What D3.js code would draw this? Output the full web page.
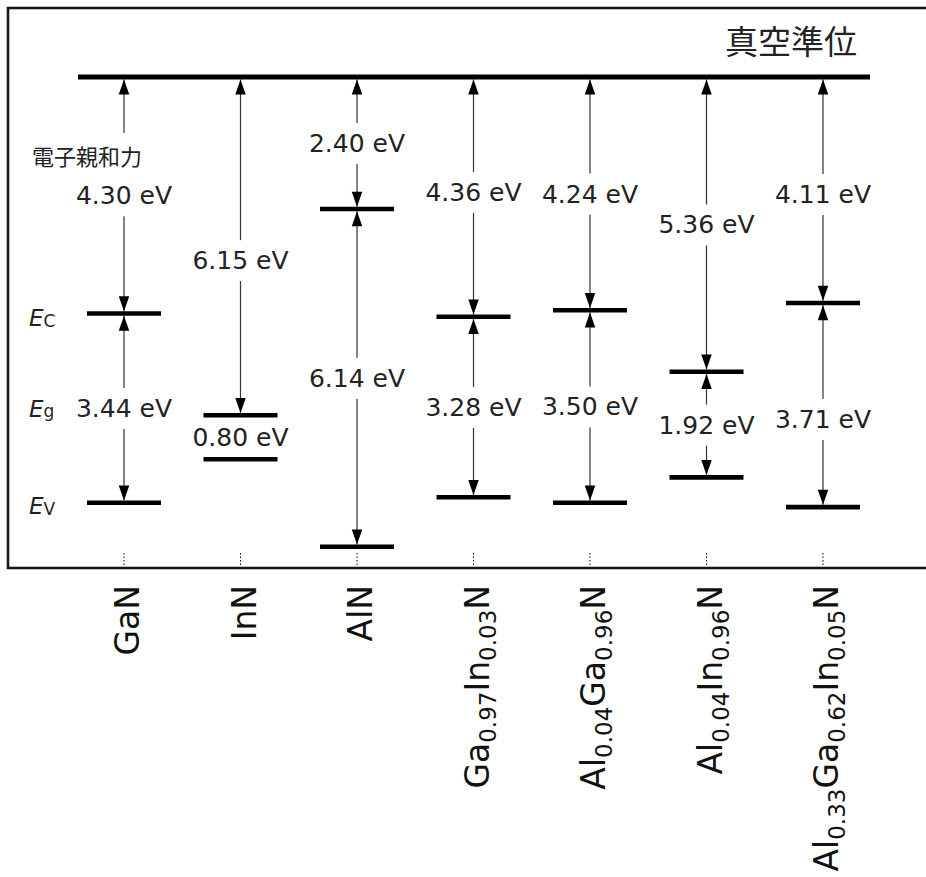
<!DOCTYPE html>
<html lang="ja">
<head>
<meta charset="utf-8">
<script src="https://cdn.jsdelivr.net/npm/d3@7"></script>
<style>
  body { margin: 0; background: #fff; }
  svg { display: block; }
  .num { font-family: "DejaVu Sans", sans-serif; font-size: 25px; fill: #222; }
  .jp { font-family: "Noto Sans CJK JP", sans-serif; fill: #222; }
</style>
</head>
<body>
<div id="chart"></div>
<script>
// materials and energies (eV)
const materials = ['GaN', 'InN', 'AlN', 'Ga0.97In0.03N', 'Al0.04Ga0.96N', 'Al0.04In0.96N', 'Al0.33Ga0.62In0.05N']
const affinity = [4.30, 6.15, 2.40, 4.36, 4.24, 5.36, 4.11]   // vacuum level -> Ec
const bandgap = [3.44, 0.80, 6.14, 3.28, 3.50, 1.92, 3.71]    // Ec -> Ev
const gapArrow = [true, false, true, true, true, true, true]  // InN has no gap arrow

const w = 926, h = 877
const barW = 74, barT = 4.6, vacT = 5
const headW = 10.5, headH = 15

const svg = d3.select('#chart').append('svg')
    .attr('width', w)
    .attr('height', h)

const x = d3.scalePoint()
    .domain(materials)
    .range([124, 823])

// energy below vacuum level -> screen y
const y = d3.scaleLinear()
    .domain([0, 9])
    .range([77, 77 + 9 * 55])

const rows = materials.map(function(m, i) {
    return { name: m, chi: affinity[i], eg: bandgap[i], ec: affinity[i], ev: affinity[i] + bandgap[i], arrow: gapArrow[i] }
})

// small hand nudges (px) so labels sit where the original put them
const chiNudge = { 'InN': 14, 'Ga0.97In0.03N': -5, 'Al0.33Ga0.62In0.05N': 4 }
const egNudge = { 'Al0.33Ga0.62In0.05N': 14 }

// frame
svg.append('rect')
    .attr('x', 8).attr('y', 8)
    .attr('width', 960).attr('height', 560)
    .attr('fill', 'none')
    .attr('stroke', '#1a1a1a')
    .attr('stroke-width', 2.6)

// arrow shafts
const shafts = svg.append('g').attr('stroke', '#333').attr('stroke-width', 1.2)
rows.forEach(function(d) {
    shafts.append('line')
        .attr('x1', x(d.name)).attr('x2', x(d.name))
        .attr('y1', y(0) + vacT / 2).attr('y2', y(d.ec) - barT / 2)
    if (d.arrow) {
        shafts.append('line')
            .attr('x1', x(d.name)).attr('x2', x(d.name))
            .attr('y1', y(d.ec) + barT / 2).attr('y2', y(d.ev) - barT / 2)
    }
})

// text with white knock-out behind it
const labels = svg.append('g')
function label(txt, cx, cy, cls, size, anchor) {
    const g = labels.append('g')
    const t = g.append('text')
        .attr('class', cls)
        .attr('x', cx)
        .attr('y', cy)
        .attr('text-anchor', anchor || 'middle')
        .style('font-size', size + 'px')
        .text(txt)
    const b = t.node().getBBox()
    g.insert('rect', 'text')
        .attr('x', b.x - 3).attr('y', b.y - 6)
        .attr('width', b.width + 6).attr('height', b.height + 12)
        .attr('fill', '#fff')
    return t
}

label('電子親和力', 32, 165, 'jp', 22, 'start')

rows.forEach(function(d) {
    const cx = x(d.name)
    const yc = (y(0) + y(d.ec)) / 2 + (chiNudge[d.name] || 0)
    label(d.chi.toFixed(2) + ' eV', cx, yc + 9, 'num', 25)
    const yg = (y(d.ec) + y(d.ev)) / 2 + (egNudge[d.name] || 0)
    label(d.eg.toFixed(2) + ' eV', cx, yg + 9, 'num', 25)
})

// vacuum level
svg.append('line')
    .attr('x1', x(materials[0]) - 46)
    .attr('x2', x(materials[materials.length - 1]) + 47)
    .attr('y1', y(0)).attr('y2', y(0))
    .attr('stroke', '#000')
    .attr('stroke-width', vacT)

svg.append('text')
    .attr('class', 'jp')
    .attr('x', 857)
    .attr('y', 54)
    .attr('text-anchor', 'end')
    .style('font-size', '33px')
    .text('真空準位')

// band edges
const bars = svg.append('g').attr('stroke', '#000').attr('stroke-width', barT)
rows.forEach(function(d) {
    [d.ec, d.ev].forEach(function(e) {
        bars.append('line')
            .attr('x1', x(d.name) - barW / 2).attr('x2', x(d.name) + barW / 2)
            .attr('y1', y(e)).attr('y2', y(e))
    })
})

// arrow heads
function head(cx, tip, dir) {
    // dir = -1 points up, +1 points down
    const base = tip - dir * headH
    return 'M' + cx + ',' + tip + 'L' + (cx - headW / 2) + ',' + base + 'L' + (cx + headW / 2) + ',' + base + 'Z'
}
const heads = svg.append('g').attr('fill', '#000')
rows.forEach(function(d) {
    const cx = x(d.name)
    heads.append('path').attr('d', head(cx, y(0) + vacT / 2, -1))
    heads.append('path').attr('d', head(cx, y(d.ec) - barT / 2, 1))
    if (d.arrow) {
        heads.append('path').attr('d', head(cx, y(d.ec) + barT / 2, -1))
        heads.append('path').attr('d', head(cx, y(d.ev) - barT / 2, 1))
    }
})

// E_C, E_g, E_V on the left, lined up with GaN
const gan = rows[0]
const sideLabels = [['C', y(gan.ec) + 12], ['g', (y(gan.ec) + y(gan.ev)) / 2 + 9], ['V', y(gan.ev) + 11]]
sideLabels.forEach(function(s) {
    const t = svg.append('text')
        .attr('x', 29).attr('y', s[1])
        .style('font-family', '"DejaVu Sans", sans-serif')
        .style('font-size', '23px')
        .attr('fill', '#222')
    t.append('tspan').style('font-style', 'italic').text('E')
    t.append('tspan').style('font-size', '17px').attr('dy', s[0] === 'g' ? 0 : 1).text(s[0])
})

// dotted ticks under each column
svg.append('g').selectAll('line')
    .data(materials)
    .enter()
    .append('line')
    .attr('x1', function(d) { return x(d) })
    .attr('x2', function(d) { return x(d) })
    .attr('y1', 553).attr('y2', 567)
    .attr('stroke', '#000')
    .attr('stroke-width', 1)
    .attr('stroke-dasharray', '1.5,2')

// rotated formula labels with subscripts
materials.forEach(function(m) {
    const parts = []
    m.replace(/([A-Z][a-z]?)([\d.]*)/g, function(all, el, sub) { parts.push([el, sub]) })
    const t = svg.append('text')
        .attr('transform', 'translate(' + (x(m) + 15) + ',585) rotate(-90)')
        .attr('text-anchor', 'end')
        .style('font-family', '"DejaVu Sans", sans-serif')
        .style('font-size', '33px')
        .attr('fill', '#111')
    let shifted = false
    parts.forEach(function(p) {
        t.append('tspan').attr('dy', shifted ? -7 : 0).text(p[0])
        shifted = false
        if (p[1]) {
            t.append('tspan').attr('dy', 7).style('font-size', '23px').text(p[1])
            shifted = true
        }
    })
})
</script>
</body>
</html>
